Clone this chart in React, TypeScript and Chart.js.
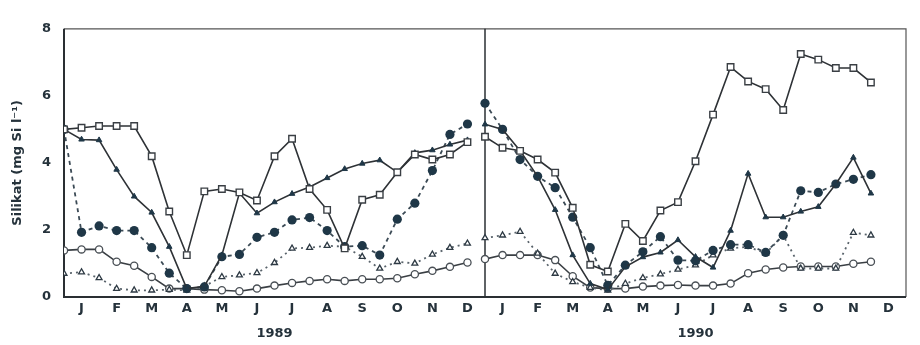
import { useEffect, useRef } from "react";
import { Chart, registerables } from "chart.js";

Chart.register(...registerables);

// Month letters under each half-month grid, two years side by side
const monthLetters = ["J", "F", "M", "A", "M", "J", "J", "A", "S", "O", "N", "D"];
const yearLabels = ["1989", "1990"];

// Silicate concentration (mg Si l-1), sampled twice a month
const squares1989 = [5.0, 5.05, 5.1, 5.1, 5.1, 4.2, 2.55, 1.25, 3.15, 3.22, 3.12, 2.88, 4.2, 4.72, 3.22, 2.6, 1.45, 2.9, 3.05, 3.72, 4.25, 4.1, 4.25, 4.62];
const triangles1989 = [5.0, 4.7, 4.68, 3.8, 3.0, 2.52, 1.5, 0.25, 0.32, 1.25, 3.1, 2.5, 2.83, 3.08, 3.28, 3.55, 3.82, 3.98, 4.08, 3.72, 4.3, 4.38, 4.55, 4.68];
const dots1989 = [5.0, 1.93, 2.12, 1.98, 1.98, 1.47, 0.71, 0.25, 0.3, 1.2, 1.27, 1.78, 1.93, 2.3, 2.37, 1.98, 1.5, 1.53, 1.25, 2.32, 2.8, 3.77, 4.85, 5.16];
const rings1989 = [1.39, 1.42, 1.42, 1.05, 0.93, 0.6, 0.25, 0.25, 0.22, 0.2, 0.17, 0.25, 0.34, 0.42, 0.48, 0.53, 0.48, 0.53, 0.53, 0.56, 0.68, 0.78, 0.9, 1.03];
const openTri1989 = [0.7, 0.74, 0.57, 0.25, 0.2, 0.2, 0.22, 0.2, 0.32, 0.6, 0.65, 0.72, 1.02, 1.45, 1.47, 1.53, 1.5, 1.2, 0.85, 1.05, 1.0, 1.27, 1.47, 1.6];

const squares1990 = [4.78, 4.45, 4.36, 4.1, 3.71, 2.66, 0.96, 0.76, 2.18, 1.67, 2.58, 2.83, 4.05, 5.44, 6.86, 6.43, 6.2, 5.58, 7.25, 7.08, 6.83, 6.83, 6.4];
const triangles1990 = [5.15, 5.0, 4.36, 3.6, 2.6, 1.25, 0.4, 0.22, 0.9, 1.19, 1.33, 1.7, 1.2, 0.88, 1.98, 3.68, 2.38, 2.38, 2.55, 2.69, 3.37, 4.16, 3.09];
const dots1990 = [5.78, 5.0, 4.1, 3.6, 3.26, 2.38, 1.47, 0.35, 0.95, 1.35, 1.8, 1.1, 1.08, 1.39, 1.56, 1.56, 1.33, 1.84, 3.17, 3.12, 3.37, 3.51, 3.65];
const rings1990 = [1.13, 1.25, 1.25, 1.25, 1.1, 0.62, 0.28, 0.25, 0.25, 0.31, 0.34, 0.36, 0.34, 0.34, 0.4, 0.71, 0.82, 0.88, 0.91, 0.91, 0.91, 0.99, 1.05];
const openTri1990 = [1.76, 1.84, 1.95, 1.3, 0.7, 0.45, 0.28, 0.2, 0.4, 0.57, 0.68, 0.82, 0.95, 1.25, 1.45, 1.5, 1.3, 1.84, 0.85, 0.85, 0.85, 1.92, 1.84];

const yTickValues = [0, 2, 4, 6, 8];

const LINE = "#2e3236";
const INK = "#1f3747";

// Month axis in months from 1 Jan 1989; each sample is half a month apart.
function series(a: number[], b: number[]) {
  const first = a.map((v, i) => ({ x: i / 2, y: v }));
  const second = b.map((v, i) => ({ x: 12 + i / 2, y: v }));
  return [...first, { x: 11.99, y: null as any }, ...second];
}

const framePlugin = {
  id: "frame",
  beforeDatasetsDraw(chart: any) {
    const { ctx, chartArea: a, scales } = chart;
    ctx.save();
    ctx.strokeStyle = "#555";
    ctx.lineWidth = 1.2;
    ctx.beginPath();
    ctx.moveTo(a.left, a.top);
    ctx.lineTo(a.right, a.top);
    ctx.lineTo(a.right, a.bottom);
    ctx.stroke();
    ctx.strokeStyle = "#2a2f33";
    ctx.lineWidth = 2;
    ctx.beginPath();
    ctx.moveTo(a.left, a.top);
    ctx.lineTo(a.left, a.bottom);
    ctx.lineTo(a.right, a.bottom);
    ctx.stroke();
    const xd = scales.x.getPixelForValue(12);
    ctx.lineWidth = 1.5;
    ctx.beginPath();
    ctx.moveTo(xd, a.top);
    ctx.lineTo(xd, a.bottom);
    ctx.stroke();
    ctx.restore();
  },
};

export default function App() {
  const ref = useRef<HTMLCanvasElement | null>(null);

  useEffect(() => {
    if (!ref.current) return;
    const tickFont = { family: "'DejaVu Sans', sans-serif", size: 13, weight: "bold" as const };

    const chart = new Chart(ref.current, {
      type: "line",
      data: {
        datasets: [
          {
            label: "squares",
            data: series(squares1989, squares1990),
            borderColor: LINE,
            borderWidth: 1.6,
            pointStyle: "rect",
            pointRadius: 4.6,
            pointBackgroundColor: "#ffffff",
            pointBorderColor: "#3a3f44",
            pointBorderWidth: 1.4,
            spanGaps: false,
          },
          {
            label: "triangles",
            data: series(triangles1989, triangles1990),
            borderColor: LINE,
            borderWidth: 1.6,
            pointStyle: "triangle",
            pointRadius: 3.2,
            pointBackgroundColor: INK,
            pointBorderColor: INK,
            pointBorderWidth: 1,
            spanGaps: false,
          },
          {
            label: "dots",
            data: series(dots1989, dots1990),
            borderColor: "#3b4a55",
            borderWidth: 1.8,
            borderDash: [4, 4],
            pointStyle: "circle",
            pointRadius: 4.6,
            pointBackgroundColor: INK,
            pointBorderColor: INK,
            pointBorderWidth: 0,
            spanGaps: false,
          },
          {
            label: "openTriangles",
            data: series(openTri1989, openTri1990),
            borderColor: "#59636b",
            borderWidth: 1.8,
            borderDash: [2, 4],
            pointStyle: "triangle",
            pointRadius: 3.4,
            pointBackgroundColor: "#ffffff",
            pointBorderColor: "#2e3a44",
            pointBorderWidth: 1.3,
            spanGaps: false,
          },
          {
            label: "rings",
            data: series(rings1989, rings1990),
            borderColor: "#3a3f44",
            borderWidth: 1.6,
            pointStyle: "circle",
            pointRadius: 3.6,
            pointBackgroundColor: "#ffffff",
            pointBorderColor: "#4a5056",
            pointBorderWidth: 1.3,
            spanGaps: false,
          },
        ],
      },
      options: {
        responsive: false,
        animation: false,
        layout: { padding: { top: 5, right: 2, left: 0, bottom: 0 } },
        plugins: { legend: { display: false }, tooltip: { enabled: false } },
        elements: { line: { tension: 0 } },
        scales: {
          x: {
            type: "linear",
            position: "bottom",
            min: 0,
            max: 24,
            weight: 0,
            grid: { display: false, drawTicks: false },
            border: { display: false },
            afterBuildTicks: (axis: any) => {
              axis.ticks = monthLetters.concat(monthLetters).map((_, k) => ({ value: k + 0.5 }));
            },
            afterFit: (axis: any) => {
              axis.height = 22;
            },
            ticks: {
              autoSkip: false,
              maxRotation: 0,
              padding: 4,
              color: "#25323b",
              font: tickFont,
              callback: (value: any) => monthLetters[Math.floor(Number(value)) % 12],
            },
          },
          x2: {
            type: "linear",
            position: "bottom",
            min: 0,
            max: 24,
            weight: 1,
            grid: { display: false, drawTicks: false },
            border: { display: false },
            afterBuildTicks: (axis: any) => {
              axis.ticks = yearLabels.map((_, k) => ({ value: 6 + k * 12 }));
            },
            afterFit: (axis: any) => {
              axis.height = 18;
            },
            ticks: {
              autoSkip: false,
              maxRotation: 0,
              padding: 7,
              color: "#25323b",
              font: tickFont,
              callback: (value: any) => yearLabels[Math.round((Number(value) - 6) / 12)],
            },
          },
          y: {
            min: 0,
            max: 8,
            grid: { display: false, drawTicks: false },
            border: { display: false },
            afterBuildTicks: (axis: any) => {
              axis.ticks = yTickValues.map((v) => ({ value: v }));
            },
            afterFit: (axis: any) => {
              axis.width = 56;
            },
            ticks: {
              padding: 13,
              color: "#25323b",
              font: tickFont,
            },
            title: {
              display: true,
              text: "Silikat (mg Si l\u207B\u00B9)",
              color: "#25323b",
              padding: { top: 2, bottom: 0 },
              font: { family: "'DejaVu Sans', sans-serif", size: 13, weight: "bold" },
            },
          },
        },
      },
      plugins: [framePlugin],
    });
    return () => chart.destroy();
  }, []);

  return (
    <div style={{ width: 904, height: 329 }}>
      <canvas ref={ref} width={904} height={329} style={{ display: "block" }} />
    </div>
  );
}
